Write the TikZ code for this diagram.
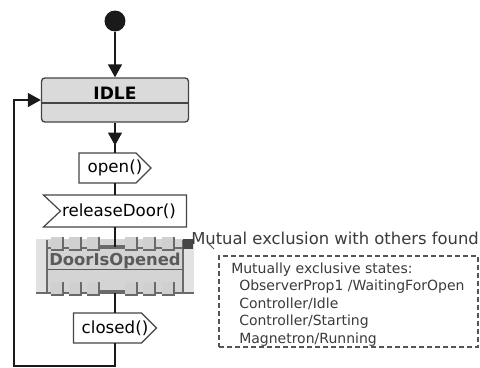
\documentclass[tikz,border=0pt]{standalone}
\usepackage{fontspec}
\setmainfont{DejaVu Sans}
\usetikzlibrary{arrows.meta,decorations.markings}
\definecolor{ink}{HTML}{1A1A1A}
\definecolor{edge}{HTML}{454545}
\definecolor{statefill}{HTML}{DADADA}
\definecolor{doorfill}{HTML}{D4D4D4}
\definecolor{doorside}{HTML}{E2E2E2}
\definecolor{doortick}{HTML}{D0D0D0}
\definecolor{doorline}{HTML}{6A6A6A}
\definecolor{doortext}{HTML}{5A5A5A}
\definecolor{notegray}{HTML}{555555}
\tikzset{
  flow/.style={draw=ink, line width=1pt},
  tip/.style={-{Triangle[length=9.75pt,width=10.5pt]}},
  midtip/.style={postaction={decorate}, decoration={markings,
      mark=at position #1 with {\arrow{Triangle[length=9.75pt,width=10.5pt]}}}},
  startdot/.style={circle, fill=ink, inner sep=0pt, minimum size=15.75pt},
  statebox/.style={rectangle, rounded corners=2.5pt, draw=edge, line width=1pt,
      fill=statefill, minimum width=110.25pt, minimum height=33pt, inner sep=0pt},
  holder/.style={inner sep=0pt, font=\fontsize{12.5}{15}\selectfont},
  outline/.style={draw=edge, line width=0.9pt, fill=white},
  lbl/.style={inner sep=0pt, font=\fontsize{12.5}{15}\selectfont},
  notebox/.style={draw=notegray, line width=0.8pt, dash pattern=on 3.75pt off 2.25pt,
      minimum width=194.25pt, minimum height=68.25pt, inner sep=0pt},
}
\begin{document}
\begin{tikzpicture}[x=0.75pt, y=-0.75pt]
\useasboundingbox[fill=white] (0,0) rectangle (480,368);

% initial pseudo state
\node[startdot] (init) at (115,21) {};

% IDLE state with its empty lower compartment
\node[statebox] (idle) at (115,100) {};
\draw[edge, line width=1pt] (idle.west |- 0,103) -- (idle.east |- 0,103);
\node[lbl, anchor=base, font=\fontsize{12.8}{15}\bfseries] (idlename) at (115,99.5) {IDLE};

% send signal open()
\draw[outline] (79,153) -- (136,153) -- (151,168) -- (136,183) -- (79,183) -- cycle;
\node[holder, minimum width=54pt, minimum height=22.5pt] (open) at (115,168) {open()};

% receive signal releaseDoor()
\draw[outline] (43.5,195) -- (186.5,195) -- (186.5,227) -- (43.5,227) -- (60.5,211) -- cycle;
\node[holder, minimum width=107.25pt, minimum height=24pt] (release) at (115,211) {\hspace*{6pt}releaseDoor()};

% DoorIsOpened state: body, side posts and the two rows of blocks
\node[fill=doorfill, minimum width=118.5pt, minimum height=40.5pt, inner sep=0pt] (door) at (115,266) {};
\fill[doorside] (36,239) rectangle (46,293);
\fill[doorside] (184,239) rectangle (194,293);
\draw[doorline, line width=0.9pt] (47,240) -- (47,293) -- (36,293);
\draw[doorline, line width=0.9pt] (183,240) -- (183,293) -- (194,293);
\foreach \yy/\ya in {248/237, 293/282} {
  \draw[doorline, line width=0.9pt] (47,\yy) -- (183,\yy);
  \draw[doorline, line width=3pt] (100,\yy-1) -- (125,\yy-1);
  \foreach \xa in {51,69,87,125,143,162} {
    \fill[doortick] (\xa,\ya) rectangle ++(12,13);
    \draw[doorline, line width=0.9pt] (\xa,\ya+13) -- ++(12,0) -- ++(0,-13);
  }
}
\node[inner sep=0pt, anchor=base, text=doortext, font=\fontsize{12.3}{15}\bfseries] (doorname) at (115,265) {DoorIsOpened};
\draw[doortext, line width=1.1pt] (48,269.5) -- (182,269.5);
\node[fill=edge, inner sep=0pt, minimum size=7.5pt] (excl) at (188,244) {};

% send signal closed()
\draw[outline] (73.5,313) -- (141.5,313) -- (156.5,328) -- (141.5,343) -- (73.5,343) -- cycle;
\node[holder, minimum width=62.25pt, minimum height=22.5pt] (closed) at (115,328) {closed()};

% warning text and note
\node[lbl, anchor=base west, font=\fontsize{12.3}{15}\selectfont, text=notegray!70!black] (warn) at (191,244) {Mutual exclusion with others found};
\draw[notegray, line width=0.6pt] (208,243) -- (214,249);
\node[notebox] (note) at (348.5,301.5) {};
\node[inner sep=0pt, anchor=north west, align=left, text=notegray!70!black,
      font=\fontsize{10.5}{13.1}\selectfont] (notetext) at (231,262.5)
  {Mutually exclusive states:\\
   \hspace*{6pt}ObserverProp1 /WaitingForOpen\\
   \hspace*{6pt}Controller/Idle\\
   \hspace*{6pt}Controller/Starting\\
   \hspace*{6pt}Magnetron/Running};

% transitions
\draw[flow, tip] (init) -- (idle.north);
\draw[flow, midtip=0.76] (idle.south) -- (open.north);
\draw[flow] (open.south) -- (release.north);
\draw[flow] (release.south) -- (115,247);
\draw[flow] (115,293) -- (closed.north);
\coordinate (loopA) at (115,366);
\coordinate (loopB) at (14,366);
\draw[flow, tip] (closed.south) -- (loopA) -- (loopB) |- (idle.west);
\end{tikzpicture}
\end{document}
